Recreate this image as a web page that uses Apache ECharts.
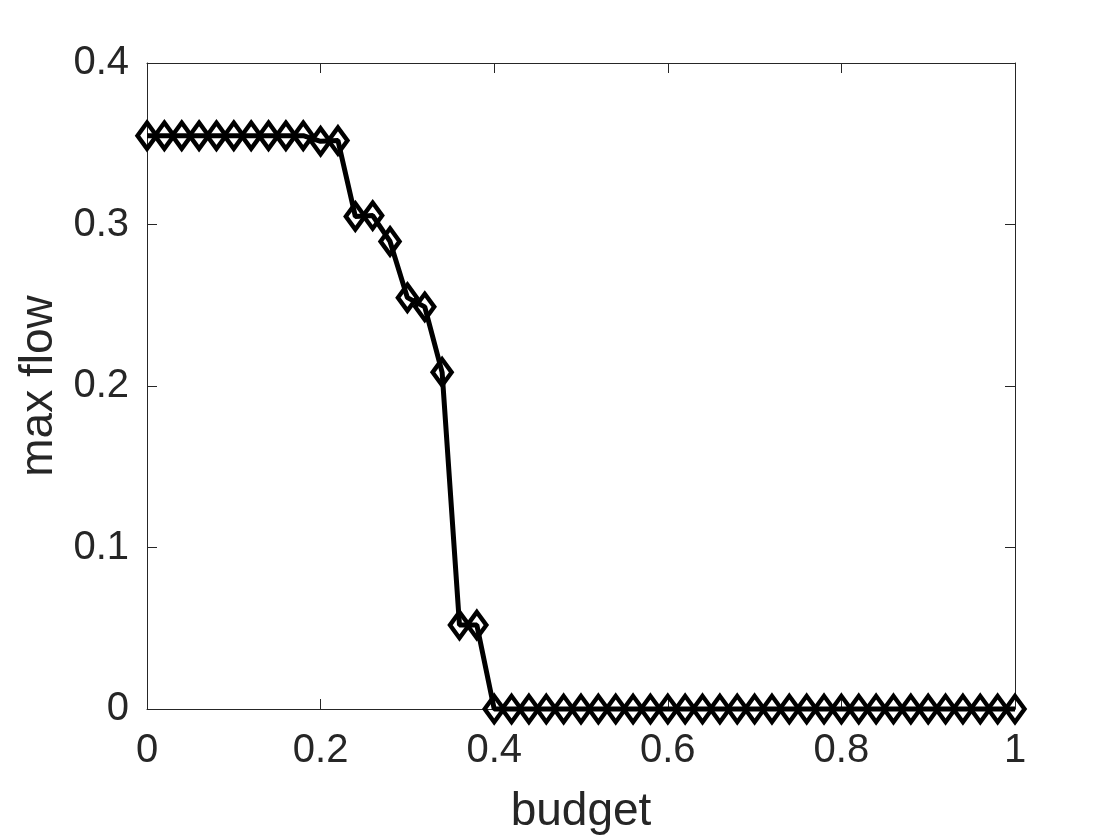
<!DOCTYPE html>
<html>
<head>
<meta charset="utf-8">
<script src="https://cdn.jsdelivr.net/npm/echarts@6/dist/echarts.min.js"></script>
<style>
  html, body { margin: 0; padding: 0; background: #fff; }
  #main { width: 1120px; height: 840px; }
</style>
</head>
<body>
<div id="main"></div>
<script>
// budget vs max flow
var budget = [0, 0.02, 0.04, 0.06, 0.08, 0.1, 0.12, 0.14, 0.16, 0.18,
              0.2, 0.22, 0.24, 0.26, 0.28, 0.3, 0.32, 0.34, 0.36, 0.38,
              0.4, 0.42, 0.44, 0.46, 0.48, 0.5, 0.52, 0.54, 0.56, 0.58,
              0.6, 0.62, 0.64, 0.66, 0.68, 0.7, 0.72, 0.74, 0.76, 0.78,
              0.8, 0.82, 0.84, 0.86, 0.88, 0.9, 0.92, 0.94, 0.96, 0.98, 1];
var maxFlow = [0.355, 0.355, 0.355, 0.355, 0.355, 0.355, 0.355, 0.355, 0.355, 0.355,
               0.3515, 0.352, 0.305, 0.3055, 0.2895, 0.2547, 0.249, 0.2085, 0.052, 0.052,
               0, 0, 0, 0, 0, 0, 0, 0, 0, 0,
               0, 0, 0, 0, 0, 0, 0, 0, 0, 0,
               0, 0, 0, 0, 0, 0, 0, 0, 0, 0, 0];
var xTicks = [0, 0.2, 0.4, 0.6, 0.8, 1];
var yTicks = [0, 0.1, 0.2, 0.3, 0.4];

var fontFamily = '"Liberation Sans", Arial, Helvetica, sans-serif';
var textColor = '#262626';
var fontSize = 40;
var nameSize = 46;

var points = [];
for (var i = 0; i < budget.length; i++) {
    points.push([budget[i], maxFlow[i]]);
}

var axisLine = {show: true, onZero: false, lineStyle: {color: textColor, width: 1}};
var axisTick = {show: true, inside: true, length: 10, lineStyle: {color: textColor, width: 1}};

var chart = echarts.init(document.getElementById('main'));
var option = {
    backgroundColor: '#fff',
    animation: false,
    grid: {left: 147, right: 105, top: 63, bottom: 130, containLabel: false},
    xAxis: [{
        type: 'value', min: 0, max: 1, interval: 0.2,
        position: 'bottom',
        name: 'budget', nameLocation: 'middle', nameGap: 80,
        nameTextStyle: {fontSize: nameSize, color: textColor, fontFamily: fontFamily},
        axisLine: axisLine, axisTick: axisTick,
        axisLabel: {fontSize: fontSize, color: textColor, fontFamily: fontFamily, margin: 22,
            formatter: function (v) { return xTicks.indexOf(+v.toFixed(2)) >= 0 ? String(+v.toFixed(2)) : ''; }},
        splitLine: {show: false}
    }, {
        type: 'value', min: 0, max: 1, interval: 0.2,
        position: 'top',
        axisLine: axisLine, axisTick: axisTick,
        axisLabel: {show: false}, splitLine: {show: false}
    }],
    yAxis: [{
        type: 'value', min: 0, max: 0.4, interval: 0.1,
        position: 'left',
        name: 'max flow', nameLocation: 'middle', nameGap: 84,
        nameTextStyle: {fontSize: nameSize, color: textColor, fontFamily: fontFamily},
        axisLine: axisLine, axisTick: axisTick,
        axisLabel: {fontSize: fontSize, color: textColor, fontFamily: fontFamily, margin: 18,
            formatter: function (v) { return yTicks.indexOf(+v.toFixed(2)) >= 0 ? String(+v.toFixed(2)) : ''; }},
        splitLine: {show: false}
    }, {
        type: 'value', min: 0, max: 0.4, interval: 0.1,
        position: 'right',
        axisLine: axisLine, axisTick: axisTick,
        axisLabel: {show: false}, splitLine: {show: false}
    }],
    series: [{
        type: 'line',
        data: points,
        clip: false,
        symbol: 'diamond',
        symbolSize: [19, 26],
        showAllSymbol: true,
        lineStyle: {color: '#000', width: 5},
        itemStyle: {color: 'rgba(0,0,0,0)', borderColor: '#000', borderWidth: 4.5}
    }]
};
chart.setOption(option);
</script>
</body>
</html>
